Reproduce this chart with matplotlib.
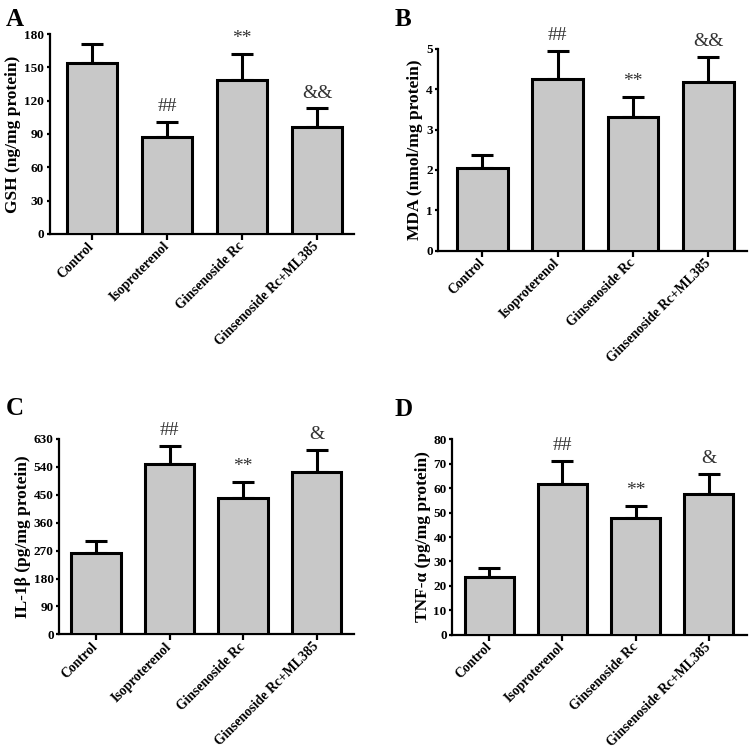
import matplotlib
matplotlib.use("Agg")
import matplotlib.pyplot as plt
import numpy as np

plt.rcParams['font.family'] = ['Liberation Serif', 'DejaVu Serif']

groups = ["Control", "Isoproterenol", "Ginsenoside Rc", "Ginsenoside Rc+ML385"]

gsh_mean = [154, 87, 139, 96]
gsh_err = [17, 14, 23, 17]
mda_mean = [2.04, 4.24, 3.30, 4.18]
mda_err = [0.33, 0.70, 0.51, 0.61]
il1b_mean = [261, 549, 439, 525]
il1b_err = [41, 59, 51, 71]
tnf_mean = [23.6, 61.6, 47.8, 57.5]
tnf_err = [3.7, 9.4, 5.0, 8.2]

marks_ab = ["", "##", "**", "&&"]
marks_cd = ["", "##", "**", "&"]

ylabels = ["GSH (ng/mg protein)", "MDA (nmol/mg protein)",
           "IL-1\u03b2 (pg/mg protein)", "TNF-\u03b1 (pg/mg protein)"]
yticks = [np.arange(0, 181, 30), np.arange(0, 6, 1),
          np.arange(0, 631, 90), np.arange(0, 81, 10)]
letters = ["A", "B", "C", "D"]

W, H = 751, 750
fig = plt.figure(figsize=(W / 100, H / 100), dpi=100)

# axes rectangles in pixels: left, right, top, bottom
rects = [(49.5, 354, 34, 234), (438.3, 746.7, 48.7, 250.7),
         (59.3, 354, 439, 634.3), (452.3, 746.7, 439.3, 634.7)]
xlims = [(-0.567, 3.49), (-0.586, 3.51), (-0.50, 3.51), (-0.507, 3.52)]
letter_pos = [(6, 8), (395, 8), (6, 397), (394, 398)]

data = [(gsh_mean, gsh_err, marks_ab), (mda_mean, mda_err, marks_ab),
        (il1b_mean, il1b_err, marks_cd), (tnf_mean, tnf_err, marks_cd)]

for i in range(4):
    l, r, t, b = rects[i]
    ax = fig.add_axes([l / W, 1 - b / H, (r - l) / W, (b - t) / H])
    mean, err, marks = data[i]
    x = np.arange(len(groups))
    ax.errorbar(x, mean, yerr=[np.zeros(len(err)), err], fmt='none',
                ecolor='black', elinewidth=2.2, capsize=8, capthick=2.2, zorder=2)
    ax.bar(x, mean, width=0.67, color='#c8c8c8', edgecolor='black',
           linewidth=2.2, zorder=3)
    for xi, m, e, s in zip(x, mean, err, marks):
        if s:
            ax.annotate(s, (xi, m + e), xytext=(0, 5), textcoords='offset points',
                        ha='center', va='bottom', fontsize=14, color='#333333')
    ax.set_xlim(*xlims[i])
    ax.set_ylim(0, yticks[i][-1])
    ax.set_yticks(yticks[i])
    ax.set_yticklabels([str(v) for v in yticks[i]], fontsize=9.5, fontweight='bold')
    ax.set_xticks(x)
    ax.set_xticklabels(groups, rotation=45, ha='right', va='center',
                       rotation_mode='anchor', fontsize=9.8, fontweight='bold')
    ax.spines['top'].set_visible(False)
    ax.spines['right'].set_visible(False)
    ax.spines['left'].set_linewidth(1.6)
    ax.spines['bottom'].set_linewidth(1.6)
    ax.tick_params(axis='x', width=1.6, length=4, direction='out', pad=3.5)
    ax.tick_params(axis='y', width=1.6, length=2.5, direction='out', pad=1.5)
    ax.set_ylabel(ylabels[i], fontsize=12.5, fontweight='bold', labelpad=2)
    lx, ly = letter_pos[i]
    fig.text(lx / W, 1 - ly / H, letters[i], fontsize=18, fontweight='bold',
             ha='left', va='top')

fig.savefig("out.png", dpi=100)
